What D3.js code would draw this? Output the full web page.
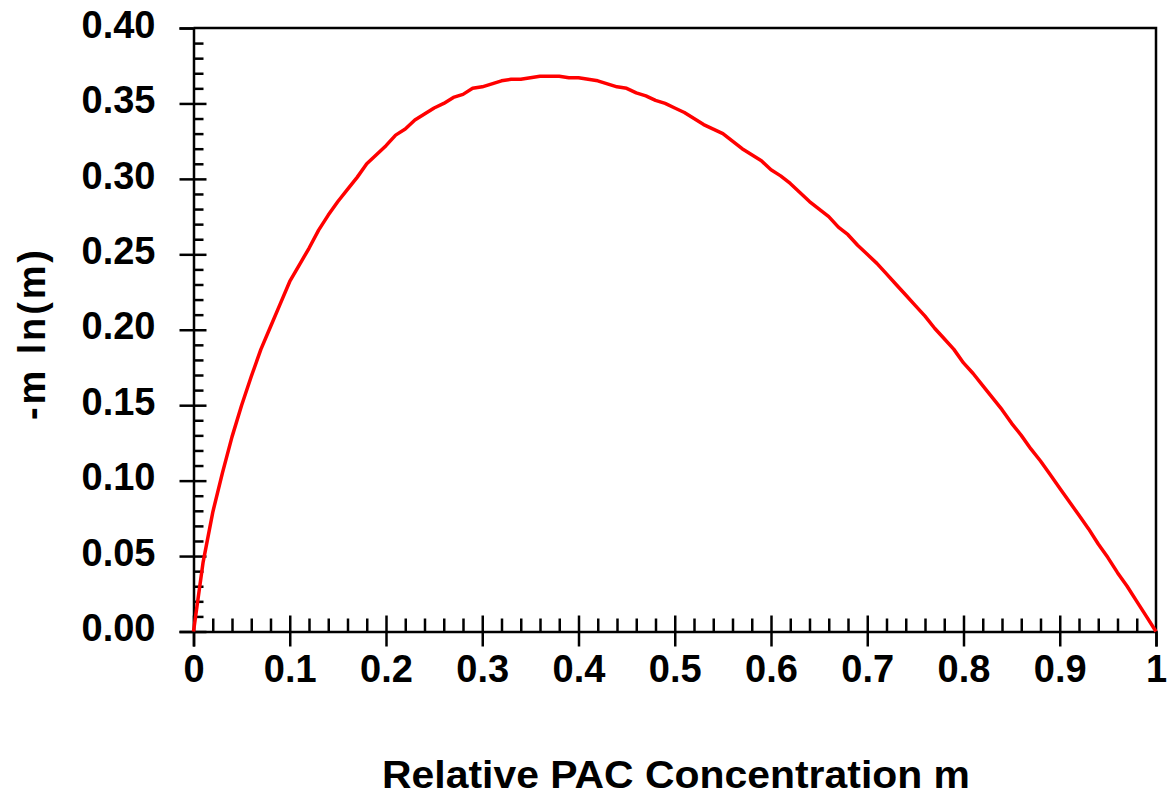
<!DOCTYPE html>
<html>
<head>
<meta charset="utf-8">
<script src="https://cdn.jsdelivr.net/npm/d3@7"></script>
<style>
  body { margin: 0; background: #fff; }
  svg { display: block; font-family: Arial, "Liberation Sans", sans-serif; }
</style>
</head>
<body>
<div id="chart"></div>
<script>
// Data
const conc = [0, 0.01, 0.02, 0.03, 0.04, 0.05, 0.06, 0.07, 0.08, 0.09,
  0.10, 0.11, 0.12, 0.13, 0.14, 0.15, 0.16, 0.17, 0.18, 0.19,
  0.20, 0.21, 0.22, 0.23, 0.24, 0.25, 0.26, 0.27, 0.28, 0.29,
  0.30, 0.31, 0.32, 0.33, 0.34, 0.35, 0.36, 0.37, 0.38, 0.39,
  0.40, 0.41, 0.42, 0.43, 0.44, 0.45, 0.46, 0.47, 0.48, 0.49,
  0.50, 0.51, 0.52, 0.53, 0.54, 0.55, 0.56, 0.57, 0.58, 0.59,
  0.60, 0.61, 0.62, 0.63, 0.64, 0.65, 0.66, 0.67, 0.68, 0.69,
  0.70, 0.71, 0.72, 0.73, 0.74, 0.75, 0.76, 0.77, 0.78, 0.79,
  0.80, 0.81, 0.82, 0.83, 0.84, 0.85, 0.86, 0.87, 0.88, 0.89,
  0.90, 0.91, 0.92, 0.93, 0.94, 0.95, 0.96, 0.97, 0.98, 0.99, 1.00];
const entropy = [0, 0.046, 0.079, 0.105, 0.129, 0.150, 0.169, 0.187, 0.202, 0.217,
  0.232, 0.243, 0.254, 0.266, 0.276, 0.285, 0.293, 0.301, 0.310, 0.316,
  0.322, 0.329, 0.333, 0.339, 0.343, 0.347, 0.350, 0.354, 0.356, 0.360,
  0.361, 0.363, 0.365, 0.366, 0.366, 0.367, 0.368, 0.368, 0.368, 0.367,
  0.367, 0.366, 0.365, 0.363, 0.361, 0.360, 0.357, 0.355, 0.352, 0.350,
  0.347, 0.344, 0.340, 0.336, 0.333, 0.330, 0.325, 0.320, 0.316, 0.312,
  0.306, 0.302, 0.297, 0.291, 0.285, 0.280, 0.275, 0.268, 0.263, 0.256,
  0.250, 0.244, 0.237, 0.230, 0.223, 0.216, 0.209, 0.201, 0.194, 0.187,
  0.178, 0.171, 0.163, 0.155, 0.147, 0.138, 0.130, 0.121, 0.113, 0.104,
  0.095, 0.086, 0.077, 0.068, 0.058, 0.049, 0.039, 0.030, 0.020, 0.010, 0];

const xMajor = [0, 0.1, 0.2, 0.3, 0.4, 0.5, 0.6, 0.7, 0.8, 0.9, 1];
const xLabels = ['0', '0.1', '0.2', '0.3', '0.4', '0.5', '0.6', '0.7', '0.8', '0.9', '1'];
const yMajor = [0, 0.05, 0.10, 0.15, 0.20, 0.25, 0.30, 0.35, 0.40];
const yLabels = ['0.00', '0.05', '0.10', '0.15', '0.20', '0.25', '0.30', '0.35', '0.40'];

const dataset = conc.map((m, i) => ({ m, v: entropy[i] }));

const dims = { width: 1171, height: 798, left: 193.5, right: 1156, top: 28, bottom: 631.5 };

const xScale = d3.scaleLinear().domain([0, 1]).range([dims.left, dims.right]);
const yScale = d3.scaleLinear().domain([0, 0.4]).range([dims.bottom, dims.top]);

// minor ticks every 0.02 on x, 0.01 on y (skip the majors)
const xMinor = d3.range(1, 50).map(i => i * 0.02).filter((d, i) => (i + 1) % 5 !== 0);
const yMinor = d3.range(1, 40).map(i => i * 0.01).filter((d, i) => (i + 1) % 5 !== 0);

const svg = d3.select('#chart').append('svg')
  .attr('width', dims.width)
  .attr('height', dims.height);

const stroke = 2.5;
const fontSize = 38;

// frame (top and right)
svg.append('path')
  .attr('d', `M${dims.left},${dims.top}H${dims.right}V${dims.bottom}`)
  .attr('fill', 'none')
  .attr('stroke', '#000')
  .attr('stroke-width', stroke);

// Y axis
const yAxis = svg.append('g')
  .attr('transform', `translate(${dims.left},0)`)
  .call(d3.axisLeft(yScale).tickValues(yMajor).tickSize(14).tickPadding(24)
    .tickFormat((d, i) => yLabels[i]));
yAxis.selectAll('.tick line').attr('x1', d => d === 0.4 ? 0 : 13);
yAxis.selectAll('.tick text').attr('dy', '0.24em');
svg.append('g')
  .attr('transform', `translate(${dims.left},0)`)
  .call(d3.axisRight(yScale).tickValues(yMinor).tickSize(10).tickFormat(''))
  .call(g => g.select('.domain').remove());

// X axis
const xAxis = svg.append('g')
  .attr('transform', `translate(0,${dims.bottom})`)
  .call(d3.axisBottom(xScale).tickValues(xMajor).tickSize(15).tickPadding(9)
    .tickFormat((d, i) => xLabels[i]));
xAxis.selectAll('.tick line').attr('y1', d => d === 1 ? 0 : -16);
svg.append('g')
  .attr('transform', `translate(0,${dims.bottom})`)
  .call(d3.axisTop(xScale).tickValues(xMinor).tickSize(13).tickFormat(''))
  .call(g => g.select('.domain').remove());

svg.selectAll('.domain').attr('stroke-width', stroke);
svg.selectAll('.tick line').attr('stroke-width', stroke);
svg.selectAll('.tick text')
  .attr('fill', '#000')
  .style('font-size', fontSize + 'px')
  .style('font-weight', 'bold')
  .style('font-family', 'Arial, "Liberation Sans", sans-serif');

// curve
const line = d3.line()
  .x(d => xScale(d.m))
  .y(d => yScale(d.v));
svg.append('path')
  .datum(dataset)
  .attr('d', line)
  .attr('fill', 'none')
  .attr('stroke', '#ff0000')
  .attr('stroke-width', 3.5)
  .attr('stroke-linejoin', 'round');

// axis titles
svg.append('text')
  .attr('x', 676)
  .attr('y', 788)
  .attr('text-anchor', 'middle')
  .attr('textLength', 588)
  .attr('lengthAdjust', 'spacingAndGlyphs')
  .style('font-size', fontSize + 'px')
  .style('font-weight', 'bold')
  .text('Relative PAC Concentration m');

svg.append('text')
  .attr('transform', 'translate(45,335) rotate(-90)')
  .attr('text-anchor', 'middle')
  .attr('textLength', 170)
  .attr('lengthAdjust', 'spacing')
  .style('font-size', fontSize + 'px')
  .style('font-weight', 'bold')
  .text('-m ln(m)');
</script>
</body>
</html>
